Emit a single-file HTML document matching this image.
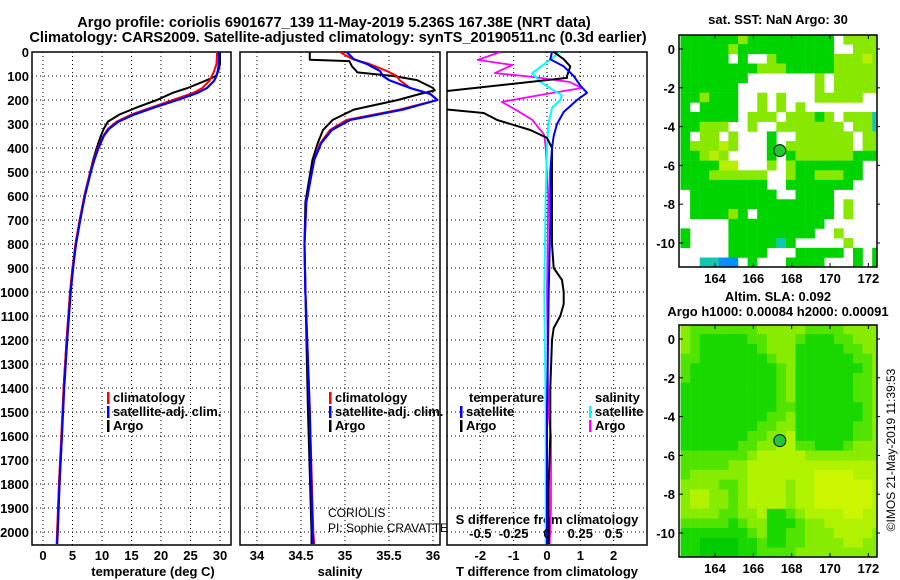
<!DOCTYPE html>
<html><head><meta charset="utf-8"><style>
html,body{margin:0;padding:0;background:#fff;width:900px;height:580px;overflow:hidden}
svg{display:block;font-family:"Liberation Sans",sans-serif}
.b{font-weight:bold;font-size:13px}
</style></head><body>
<svg id="fig" width="900" height="580" viewBox="0 0 900 580" xmlns="http://www.w3.org/2000/svg">
<text x="334" y="27" text-anchor="middle" class="b" style="font-size:14.6px">Argo profile: coriolis 6901677_139 11-May-2019 5.236S 167.38E (NRT data)</text>
<text x="338" y="42" text-anchor="middle" class="b" style="font-size:14.6px">Climatology: CARS2009. Satellite-adjusted climatology: synTS_20190511.nc (0.3d earlier)</text>
<text x="778" y="24" text-anchor="middle" class="b">sat. SST: NaN Argo: 30</text>
<text x="778" y="301" text-anchor="middle" class="b">Altim. SLA: 0.092</text>
<text x="778" y="316" text-anchor="middle" class="b">Argo h1000: 0.00084 h2000: 0.00091</text>
<text transform="translate(895,450) rotate(-90)" text-anchor="middle" style="font-size:12px">©IMOS 21-May-2019 11:39:53</text>
<text x="153" y="576" text-anchor="middle" class="b">temperature (deg C)</text>
<text x="340" y="576" text-anchor="middle" class="b">salinity</text>
<text x="547" y="576" text-anchor="middle" class="b">T difference from climatology</text>
<text x="547" y="524" text-anchor="middle" class="b">S difference from climatology</text>
<text x="328" y="517" style="font-size:12px">CORIOLIS</text>
<text x="328" y="532" style="font-size:12px">PI: Sophie CRAVATTE</text>
</svg>
<script>
// ---- data ----
const depthTicks=[0,100,200,300,400,500,600,700,800,900,1000,1100,1200,1300,1400,1500,1600,1700,1800,1900,2000];
const tTicks=[0,5,10,15,20,25,30];
const sTicks=[34,34.5,35,35.5,36];
const sTickLabels=["34","34.5","35","35.5","36"];
const dTicks=[-2,-1,0,1,2];
const sdTicks=[-0.5,-0.25,0,0.25,0.5];
const sdTickLabels=["-0.5","-0.25","0","0.25","0.5"];
const tDepth=[0,50,80,100,120,150,170,200,230,260,290,320,350,400,450,500,600,700,800,900,1000,1200,1400,1600,1800,2000,2050];
const tArgo=[30.0,30.0,29.7,29.3,27.5,24.5,22.0,19.3,16.0,13.0,11.0,10.3,9.8,9.1,8.5,8.0,7.0,6.3,5.6,5.0,4.6,4.0,3.5,3.2,2.8,2.5,2.4];
const tClim=[29.5,29.4,29.0,28.6,28.2,27.0,25.5,22.0,18.5,15.0,12.5,11.0,10.2,9.3,8.6,8.0,7.0,6.2,5.5,5.0,4.6,4.0,3.5,3.1,2.7,2.4,2.3];
const tSat=[29.8,29.8,29.6,29.4,29.0,27.8,26.2,22.8,19.0,15.5,12.8,11.2,10.3,9.4,8.7,8.1,7.1,6.3,5.6,5.1,4.7,4.1,3.6,3.2,2.8,2.5,2.4];
const sArgoDepth=[0,32,38,60,75,85,100,117,150,160,175,200,240,283,325,380,450,625,800,1000,1500,2000,2050];
const sArgo=[34.60,34.60,35.05,35.08,35.12,35.14,35.55,35.82,36.0,36.02,35.85,35.6,35.1,34.86,34.75,34.69,34.63,34.55,34.54,34.55,34.58,34.62,34.62];
const sClimDepth=[0,30,50,80,100,117,150,175,200,240,283,325,380,450,625,800,1000,1500,2000,2050];
const sClim=[34.94,35.09,35.28,35.48,35.59,35.62,35.74,35.97,36.05,35.62,35.02,34.83,34.72,34.65,34.56,34.54,34.55,34.60,34.64,34.65];
const sSat=[35.02,35.1,35.25,35.4,35.43,35.5,35.74,35.97,36.05,35.66,35.06,34.85,34.73,34.65,34.56,34.54,34.55,34.60,34.63,34.64];
const tdArgoDepth=[0,30,60,100,108,170,233,254,283,325,358,400,500,600,700,800,900,950,1000,1050,1100,1150,1200,1400,1600,1800,2000,2050];
const tdArgo=[0.2,0.5,0.7,0.6,0.6,-3.5,-3.5,-1.9,-1.5,-0.5,0,0.15,0.15,0.15,0.15,0.15,0.2,0.45,0.5,0.5,0.4,0.2,0.15,0.1,0.1,0.05,0.05,0.05];
const tdSatDepth=[0,30,60,100,140,170,200,250,300,350,400,500,700,1000,1500,2000,2050];
const tdSat=[0.15,0.1,0.5,0.8,1.0,1.2,0.9,0.5,0.3,0.2,0.15,0.1,0.1,0.05,0.0,0.0,0.0];
const sdArgoDepth=[0,33,54,88,104,125,150,179,208,242,283,346,400,600,1000,1500,1600,1900,2050];
const sdArgo=[-0.35,-0.52,-0.26,-0.39,-0.1,0.17,0.26,-0.05,-0.34,-0.23,-0.11,-0.02,-0.01,0.01,0.0,0.01,0.03,0.03,0.02];
const sdSatDepth=[0,33,88,125,160,180,200,230,300,400,600,1000,1500,2000,2050];
const sdSat=[0.1,0.02,-0.11,-0.05,0.05,0.11,0.1,0.04,0.01,0.0,-0.01,-0.02,-0.01,-0.01,-0.01];
const lonTicks=[164,166,168,170,172];
const latTicks=[0,-2,-4,-6,-8,-10];
const argoLon=167.38, argoLat=-5.236;
const sstGrid=[
"gggggglggggggggg.llll",
"ggggglgggggggggg..lll",
"ggggg.g..lgggggglllyl",
"gggggggglllggggglllll",
"ggggggg.......l.lllll",
"gggggg........l.lllll",
"gglggg..l.l...lllll..",
"g.gggg..l.l.l........",
"gggggg.lll.lllgl.lllc",
"gglll..l..lllllll.llc",
"g.ll.l...g..llllll.ll",
"glllyl...g.lllllll.ll",
"gglyl....g.gllllllggg",
"ggggyy...l.lggggggg..",
"gggllllll..lgglllgg..",
"ggggggggg..ggggggg...",
".ggggggggg..gggg.....",
".ggggggggggggggg.l...",
".gggglg.gggggggg.l...",
".....gggggggggg......",
"g....ggggggggg..l....",
"g....gggggcg.....l...",
".....gggg...ggggg.g.g",
"..ccbb.g...gggg...g.g"];
const slaGrid=[
"322222223333322223333",
"321111122333211122333",
"321111112333111112233",
"221111111233111111223",
"211111111123111111123",
"211111111123111111223",
"111111111123111111223",
"111111111123111111223",
"111111111122111111123",
"111111111223111111123",
"111111112233111111223",
"111111122334111111223",
"111111223344221112333",
"222222234444433333333",
"222223344444444444444",
"233333344444445555444",
"333322344443445555554",
"344332344443445555554",
"344332344443445555554",
"333322334112344445544",
"222221233111233444444",
"111111123112233344443",
"110000112112233334433",
"110000112222333333333"];
// ---- drawing ----
const NS="http://www.w3.org/2000/svg";
const svg=document.getElementById('fig');
function mk(tag,attrs,parent){const e=document.createElementNS(NS,tag);for(const k in attrs)e.setAttribute(k,attrs[k]);(parent||svg).appendChild(e);return e;}
const Y0=52,Y1=545,PXM=0.24;
function yD(d){return Y0+d*PXM;}
const panels=[
 {id:'temperature',x0:32,x1:231,min:-1.86,max:31.86},
 {id:'salinity',x0:240,x1:440,min:33.807,max:36.08},
 {id:'difference',x0:447,x1:647,min:-3,max:3}];
function xs(p,v){return p.x0+(v-p.min)/(p.max-p.min)*(p.x1-p.x0);}
const defs=mk('defs',{});
panels.forEach((p,i)=>{const c=mk('clipPath',{id:'clip'+i},defs);mk('rect',{x:p.x0,y:Y0,width:p.x1-p.x0,height:Y1-Y0},c);});
function grid(p,ticks,g){
  ticks.forEach(t=>{const x=xs(p,t);const l=mk('line',{x1:x,x2:x,y1:Y0,y2:Y1,stroke:'#000','stroke-width':1,'stroke-dasharray':'1,3'},g);
  
  });
  depthTicks.forEach(d=>{const y=yD(d);const l=mk('line',{x1:p.x0,x2:p.x1,y1:y,y2:y,stroke:'#000','stroke-width':1,'stroke-dasharray':'1,3'},g);
  
  });
}
function series(p,i,vals,deps,color,w,name,scale){
  const pts=vals.map((v,k)=>xs(p,v*(scale||1)).toFixed(1)+','+yD(deps[k]).toFixed(1)).join(' ');
  const pl=mk('polyline',{points:pts,fill:'none',stroke:color,'stroke-width':w,'clip-path':'url(#clip'+i+')','stroke-linejoin':'round'});
  
  
}
function xlabels(p,ticks,labels,y,name,scale){
  ticks.forEach((t,k)=>{const tx=mk('text',{x:xs(p,t*(scale||1)),y:y,'text-anchor':'middle','class':'b'});tx.textContent=labels?labels[k]:String(t);
  
  });
}
panels.forEach((p,i)=>{
  const g=mk('g',{});
  
  
  const tk=i==0?tTicks:(i==1?sTicks:dTicks);
  grid(p,tk,g);
  const fr=mk('rect',{x:p.x0,y:Y0,width:p.x1-p.x0,height:Y1-Y0,fill:'none',stroke:'#000','stroke-width':1.5},g);
  
  
});
depthTicks.forEach(d=>{const t=mk('text',{x:29,y:yD(d)+5,'text-anchor':'end','class':'b'});t.textContent=String(d);

});
const P=panels;
series(P[0],0,tArgo,tDepth,'#000',2,'temperature-argo-line');
series(P[0],0,tClim,tDepth,'#f00',2,'temperature-climatology-line');
series(P[0],0,tSat,tDepth,'#00f',2.2,'temperature-satellite-line');
series(P[1],1,sArgo,sArgoDepth,'#000',2,'salinity-argo-line');
series(P[1],1,sClim,sClimDepth,'#f00',2,'salinity-climatology-line');
series(P[1],1,sSat,sClimDepth,'#00f',2.2,'salinity-satellite-line');
series(P[2],2,sdArgo,sdArgoDepth,'#f0f',1.8,'s-diff-argo-line',4);
series(P[2],2,sdSat,sdSatDepth,'#0ff',2,'s-diff-satellite-line',4);
series(P[2],2,tdArgo,tdArgoDepth,'#000',2,'t-diff-argo-line');
series(P[2],2,tdSat,tdSatDepth,'#00f',2,'t-diff-satellite-line');
xlabels(P[0],tTicks,null,560,'temperature-tick-label');
xlabels(P[1],sTicks,sTickLabels,560,'salinity-tick-label');
xlabels(P[2],dTicks,null,560,'t-diff-tick-label');
xlabels(P[2],sdTicks,sdTickLabels,538,'s-diff-tick-label',4);
function leg(x,y,color,label,name){
  const r=mk('rect',{x:x,y:y-10,width:2.5,height:12,fill:color});
  
  
  const t=mk('text',{x:x+6,y:y,'class':'b'});t.textContent=label;
  
  
}
leg(107,402,'#f00','climatology','legend-climatology');
leg(107,416,'#00f','satellite-adj. clim.','legend-satellite-adj');
leg(107,430,'#000','Argo','legend-argo');
leg(329,402,'#f00','climatology','legend-s-climatology');
leg(329,416,'#00f','satellite-adj. clim.','legend-s-satellite-adj');
leg(329,430,'#000','Argo','legend-s-argo');
{const t=mk('text',{x:469,y:402,'class':'b'});t.textContent='temperature';


const t2=mk('text',{x:595,y:402,'class':'b'});t2.textContent='salinity';

}
leg(460,416,'#00f','satellite','legend-t-satellite');
leg(460,430,'#000','Argo','legend-t-argo');
leg(589,416,'#0ff','satellite','legend-s-satellite');
leg(589,430,'#f0f','Argo','legend-s-argo-diff');
// maps
const sstCol={g:'#00d400',l:'#88e800',y:'#b8ee00',c:'#10c8b0',b:'#0090ff'};
const slaCol=['#00cc00','#18d800','#50e400','#88ec00','#b0f200','#ccf600'];
function drawMap(top,grid,colFn,name){
  const x0=679,x1=877,fy0=top,fy1=top+232;
  const lx=lon=>715+(lon-164)*19.17;
  const ly=lat=>top+14+(-lat)*19.4;
  const g=mk('g',{});
  
  
  const cid='mclip'+top;const c=mk('clipPath',{id:cid},defs);mk('rect',{x:x0,y:fy0,width:x1-x0,height:fy1-fy0},c);
  const cg=mk('g',{'clip-path':'url(#'+cid+')'},g);
  grid.forEach((row,r)=>{for(let k=0;k<row.length;k++){const col=colFn(row[k]);if(!col)continue;
    const lon=162.2+k*0.5,lat=0.75-r*0.5;
    const re=mk('rect',{x:lx(lon).toFixed(1),y:ly(lat).toFixed(1),width:9.8,height:10,fill:col},cg);
    
    }});
  const m=mk('circle',{cx:lx(argoLon),cy:ly(argoLat),r:6,fill:'#20c830',stroke:'#000','stroke-width':1},g);
  
  
  const fr=mk('rect',{x:x0,y:fy0,width:x1-x0,height:fy1-fy0,fill:'none',stroke:'#000','stroke-width':1.5},g);
  
  
  lonTicks.forEach(l=>{const x=lx(l);mk('line',{x1:x,x2:x,y1:fy0,y2:fy0+4,stroke:'#000'},g);mk('line',{x1:x,x2:x,y1:fy1,y2:fy1-4,stroke:'#000'},g);
    const t=mk('text',{x:x,y:fy1+16,'text-anchor':'middle','class':'b'},g);t.textContent=String(l);
    
    });
  latTicks.forEach(l=>{const y=ly(l);mk('line',{x1:x0,x2:x0+4,y1:y,y2:y,stroke:'#000'},g);mk('line',{x1:x1,x2:x1+3,y1:y,y2:y,stroke:'#000'},g);
    const t=mk('text',{x:675,y:y+5,'text-anchor':'end','class':'b'},g);t.textContent=String(l);
    
    });
}
drawMap(35,sstGrid,ch=>sstCol[ch]||null,'sst-map');
drawMap(325,slaGrid,ch=>slaCol[+ch],'sla-map');
</script>
</body></html>
